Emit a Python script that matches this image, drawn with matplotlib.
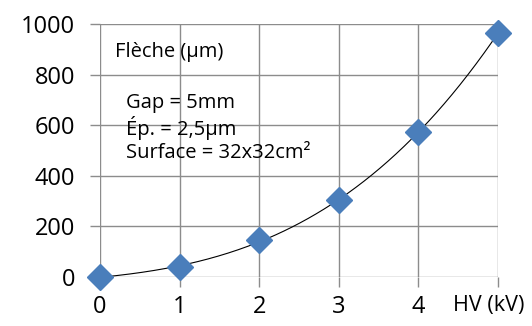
import numpy as np
import matplotlib
matplotlib.use("Agg")
import matplotlib.pyplot as plt

# data
hv_kv = [0, 1, 2, 3, 4, 5]
fleche_um = [0, 40, 145, 303, 573, 964]
x_tick_labels = ["0", "1", "2", "3", "4", ""]
y_ticks = [0, 200, 400, 600, 800, 1000]

plt.rcParams['font.family'] = ['Open Sans', 'DejaVu Sans']

fig = plt.figure(figsize=(5.32, 3.26), dpi=100)
ax = fig.add_axes([100/532, 1 - 277/326, 398/532, 253/326])

gridc = '#8c8c8c'

# trend line (polynomial fit, like a spreadsheet trendline)
coef = np.polyfit(hv_kv, fleche_um, 3)
xs = np.linspace(0, 5, 200)
ax.plot(xs, np.polyval(coef, xs), color='black', lw=0.8, zorder=3)

ax.plot(hv_kv, fleche_um, linestyle='none', marker='D', markersize=13,
        color='#4a7ebb', markeredgecolor='#4a7ebb', zorder=4, clip_on=False)

ax.set_xlim(0, 5)
ax.set_ylim(0, 1000)
ax.set_xticks(hv_kv)
ax.set_xticklabels(x_tick_labels)
ax.set_yticks(y_ticks)
ax.grid(True, color=gridc, lw=1)
for s in ax.spines.values():
    s.set_visible(False)
ax.tick_params(axis='both', color=gridc, length=7, width=1, labelsize=17, labelcolor='black')
ax.tick_params(axis='y', pad=11)
ax.tick_params(axis='x', pad=6)

ax.text(0.19, 889, "Flèche (µm)", fontsize=14.5, va='center', ha='left')
ax.text(0.33, 589, "Gap = 5mm\nÉp. = 2,5µm\nSurface = 32x32cm²", fontsize=14.5,
        va='center', ha='left', linespacing=1.2)
fig.text(489/532, 1 - 305/326, "HV (kV)", fontsize=15.5, ha='center', va='center')

fig.savefig("out.png", dpi=100)
